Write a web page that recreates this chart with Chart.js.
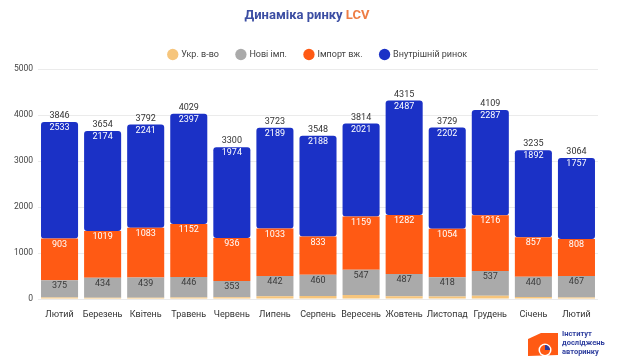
<!DOCTYPE html>
<html>
<head>
<meta charset="utf-8">
<script src="https://cdn.jsdelivr.net/npm/chart.js@4"></script>
<style>
  html, body { margin: 0; padding: 0; background: #fff; }
  #wrap { width: 620px; height: 362px; position: relative; }
</style>
</head>
<body>
<div id="wrap"><canvas id="lcv"></canvas></div>
<script>
// Months
const months = ['Лютий', 'Березень', 'Квітень', 'Травень', 'Червень', 'Липень', 'Серпень', 'Вересень', 'Жовтень', 'Листопад', 'Грудень', 'Січень', 'Лютий'];

// Series (segment values)
const ukrProd = [35, 27, 29, 34, 37, 59, 67, 87, 59, 55, 69, 46, 32];
const newImport = [375, 434, 439, 446, 353, 442, 460, 547, 487, 418, 537, 440, 467];
const usedImport = [903, 1019, 1083, 1152, 936, 1033, 833, 1159, 1282, 1054, 1216, 857, 808];
const domestic = [2533, 2174, 2241, 2397, 1974, 2189, 2188, 2021, 2487, 2202, 2287, 1892, 1757];

// Totals shown above bars
const totals = [3846, 3654, 3792, 4029, 3300, 3723, 3548, 3814, 4315, 3729, 4109, 3235, 3064];

const yTicks = [0, 1000, 2000, 3000, 4000, 5000];

const FONT = 'Roboto, "Noto Sans", sans-serif';

// title in two colours
const titlePlugin = {
  id: 'twoColorTitle',
  beforeDraw(chart) {
    const ctx = chart.ctx;
    ctx.save();
    ctx.font = 'bold 13px ' + FONT;
    ctx.textBaseline = 'middle';
    const a = 'Динаміка ринку ';
    const b = 'LCV';
    const wa = ctx.measureText(a).width;
    const wb = ctx.measureText(b).width;
    let x = 307 - (wa + wb) / 2;
    ctx.fillStyle = '#3c4ea3';
    ctx.fillText(a, x, 16);
    ctx.fillStyle = '#ee7d45';
    ctx.fillText(b, x + wa, 16);
    ctx.restore();
  }
};

// value labels inside/above bars
const valueLabels = {
  id: 'valueLabels',
  afterDatasetsDraw(chart) {
    const ctx = chart.ctx;
    ctx.save();
    ctx.font = '9px ' + FONT;
    ctx.textAlign = 'center';
    ctx.textBaseline = 'middle';
    const colors = { 1: '#3a3a3a', 2: '#ffffff', 3: '#ffffff' };
    [1, 2, 3].forEach(di => {
      const meta = chart.getDatasetMeta(di);
      meta.data.forEach((bar, i) => {
        ctx.fillStyle = colors[di];
        ctx.fillText(chart.data.datasets[di].data[i], bar.x, bar.y + 6);
      });
    });
    const top = chart.getDatasetMeta(3);
    top.data.forEach((bar, i) => {
      ctx.fillStyle = '#333';
      ctx.fillText(totals[i], bar.x, bar.y - 6);
    });
    ctx.restore();
  }
};

// logo bottom right
const logoPlugin = {
  id: 'logo',
  afterDraw(chart) {
    const ctx = chart.ctx;
    ctx.save();
    ctx.fillStyle = '#ff5a14';
    ctx.beginPath();
    ctx.moveTo(528, 339);
    ctx.lineTo(541, 333);
    ctx.lineTo(558, 333);
    ctx.lineTo(558, 355);
    ctx.lineTo(528, 356);
    ctx.closePath();
    ctx.fill();
    ctx.fillStyle = '#ffffff';
    ctx.beginPath();
    ctx.arc(545, 350, 6.5, 0, Math.PI * 2);
    ctx.fill();
    ctx.fillStyle = '#ff5a14';
    ctx.beginPath();
    ctx.arc(545, 350, 5, 0, Math.PI * 2);
    ctx.fill();
    ctx.fillStyle = '#2b3a9c';
    ctx.beginPath();
    ctx.moveTo(545, 350);
    ctx.arc(545, 350, 5, -Math.PI / 2, 0);
    ctx.closePath();
    ctx.fill();
    ctx.font = 'bold 7.5px ' + FONT;
    ctx.textBaseline = 'middle';
    ctx.fillStyle = '#2f3f9f';
    ctx.fillText('Інститут', 562, 334);
    ctx.fillText('досліджень', 562, 343);
    ctx.fillText('авторинку', 562, 352);
    ctx.restore();
  }
};

new Chart(document.getElementById('lcv'), {
  type: 'bar',
  data: {
    labels: months,
    datasets: [
      { label: 'Укр. в-во', data: ukrProd, backgroundColor: '#f6c57c' },
      { label: 'Нові імп.', data: newImport, backgroundColor: '#aaaaaa' },
      { label: 'Імпорт вж.', data: usedImport, backgroundColor: '#ff5a14' },
      { label: 'Внутрішній ринок', data: domestic, backgroundColor: '#1b31c6' }
    ]
  },
  options: {
    responsive: true,
    maintainAspectRatio: false,
    animation: false,
    layout: { padding: { top: 32, right: 22, bottom: 0, left: 0 } },
    datasets: {
      bar: { barPercentage: 0.86, categoryPercentage: 1, borderRadius: 3, borderSkipped: false }
    },
    plugins: {
      legend: {
        position: 'top',
        fullSize: false,
        maxHeight: 37,
        labels: {
          usePointStyle: true,
          pointStyle: 'circle',
          boxWidth: 8,
          boxHeight: 8,
          padding: 18,
          color: '#444',
          font: { family: FONT, size: 9 }
        }
      },
      title: { display: false },
      tooltip: { enabled: false }
    },
    scales: {
      x: {
        stacked: true,
        grid: { display: false, drawTicks: false },
        border: { display: false },
        ticks: { color: '#333', padding: 10, font: { family: FONT, size: 9 }, maxRotation: 0, autoSkip: false },
        afterFit(scale) { scale.height = 63; }
      },
      y: {
        stacked: true,
        min: 0,
        max: 5000,
        afterBuildTicks(scale) { scale.ticks = yTicks.map(v => ({ value: v })); },
        grid: { color: '#ebebeb', drawTicks: false },
        border: { display: false },
        ticks: { color: '#444', padding: 5, font: { family: FONT, size: 8.5 }, callback: v => String(v) },
        afterFit(scale) { scale.width = 38; }
      }
    }
  },
  plugins: [titlePlugin, valueLabels, logoPlugin]
});
</script>
</body>
</html>
